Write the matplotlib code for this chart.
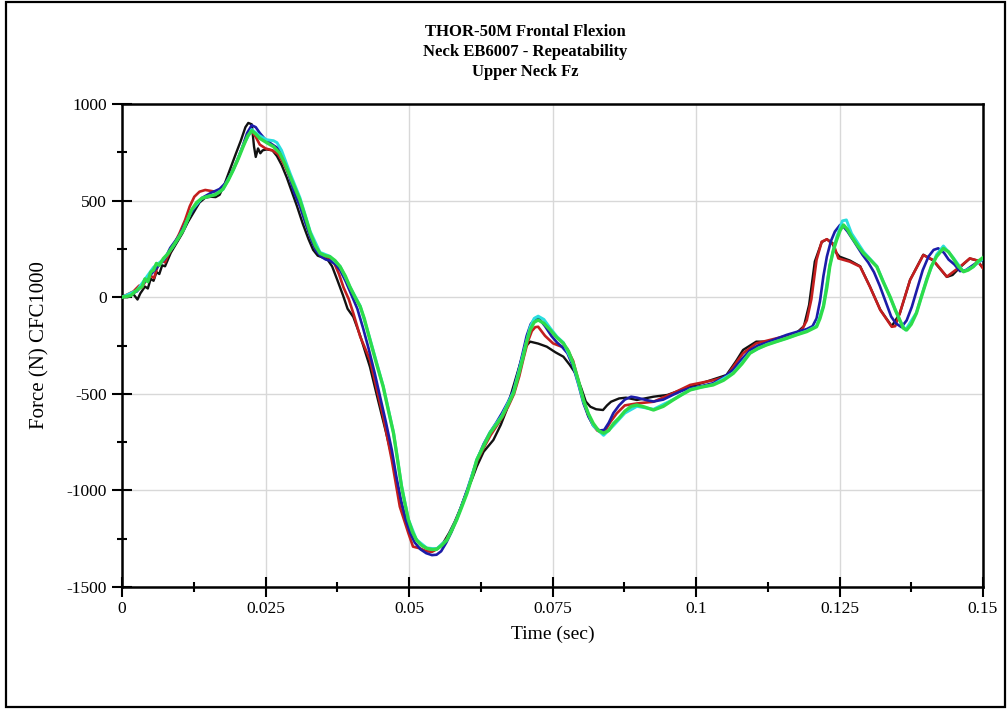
import matplotlib
matplotlib.use("Agg")
import matplotlib.pyplot as plt
from matplotlib.patches import Rectangle
from matplotlib.ticker import MultipleLocator

# ---------------- data (time in s, force in N) ----------------
t_black = [0, 0.0010, 0.0020, 0.0027, 0.0032, 0.0040, 0.0045, 0.0050, 0.0055, 0.0060,
           0.0065, 0.0070, 0.0075, 0.0085,
           0.0095, 0.0105, 0.0115, 0.0125, 0.0135, 0.0145, 0.0155, 0.0163, 0.0170, 0.0178,
           0.0188, 0.0198, 0.0207, 0.0215, 0.0220, 0.0226, 0.0230, 0.0233, 0.0237, 0.0241,
           0.0245, 0.0252, 0.0262, 0.0270, 0.0278, 0.0287, 0.0296, 0.0305, 0.0315, 0.0325,
           0.0333, 0.0341, 0.0350, 0.0358, 0.0366, 0.0375, 0.0385, 0.0393, 0.0403, 0.0415,
           0.0432, 0.0445, 0.0460, 0.0472, 0.0485, 0.0494, 0.0502, 0.0510, 0.0518, 0.0530,
           0.0540, 0.0550, 0.0560, 0.0570, 0.0580, 0.0590, 0.0600, 0.0610, 0.0618, 0.0630,
           0.0647, 0.0660, 0.0670, 0.0680, 0.0692, 0.0702, 0.0711, 0.0725, 0.0740, 0.0755,
           0.0769, 0.0780, 0.0790, 0.0800, 0.0808, 0.0816, 0.0826, 0.0838, 0.0845, 0.0852,
           0.0866, 0.0878, 0.0897, 0.0926, 0.0950, 0.0990, 0.1013, 0.1053, 0.1070, 0.1082,
           0.1105, 0.1123, 0.1158, 0.1175, 0.1188, 0.1197, 0.1207, 0.1219, 0.1228, 0.1238,
           0.1243, 0.1250, 0.1268, 0.1286, 0.1303, 0.1321, 0.1341, 0.1355, 0.1373, 0.1396,
           0.1413, 0.1430, 0.1437, 0.1447, 0.1460, 0.1477, 0.1490, 0.1500]
f_black = [0, 0, 15, -12, 20, 55, 45, 95, 85, 130,
           120, 165, 160, 230,
           280, 330, 390, 440, 490, 515, 520, 518, 530, 580,
           660, 740, 810, 880, 902, 895, 780, 726, 770, 745,
           760, 765, 760, 730, 685, 620, 545, 470, 380, 300,
           245, 215, 205, 195, 160, 90, 10, -60, -102, -200,
           -361, -520, -700, -850, -1050, -1140, -1188, -1240, -1274, -1300,
           -1305, -1300, -1270, -1220, -1160, -1090, -1010, -940, -877, -800,
           -739, -660, -584, -480, -360, -260, -230, -240, -256, -285,
           -308, -350, -394, -470, -540, -567, -580, -584, -560, -541,
           -524, -520, -532, -515, -506, -463, -442, -403, -330, -273,
           -230, -230, -204, -185, -150, -40, 185, 285, 300, 280,
           235, 210, 190, 160, 55, -65, -150, -85, 90, 220,
           190, 130, 105, 115, 155, 200, 190, 150]

t_red = [0, 0.0020, 0.0030, 0.0035, 0.0042, 0.0050, 0.0056, 0.0062, 0.0070, 0.0075,
         0.0080, 0.0090, 0.0100, 0.0110,
         0.0118, 0.0126, 0.0135, 0.0145, 0.0155, 0.0165, 0.0175, 0.0185, 0.0195, 0.0205,
         0.0213, 0.0220, 0.0226, 0.0233, 0.0240, 0.0250, 0.0262, 0.0272, 0.0282, 0.0292,
         0.0302, 0.0312, 0.0322, 0.0330, 0.0338, 0.0347, 0.0355, 0.0362, 0.0370, 0.0378,
         0.0386, 0.0395, 0.0403, 0.0415, 0.0432, 0.0455, 0.0470, 0.0484, 0.0499, 0.0507,
         0.0519, 0.0530, 0.0540, 0.0548, 0.0557, 0.0566, 0.0575, 0.0584, 0.0593, 0.0602,
         0.0611, 0.0619, 0.0631, 0.0642, 0.0653, 0.0663, 0.0673, 0.0683, 0.0692, 0.0700,
         0.0707, 0.0714, 0.0720, 0.0725, 0.0737, 0.0751, 0.0765, 0.0775, 0.0786, 0.0795,
         0.0804, 0.0812, 0.0820, 0.0828, 0.0835, 0.0843, 0.0851, 0.0862, 0.0876, 0.0897,
         0.0926, 0.0960, 0.0990, 0.1030, 0.1053, 0.1065, 0.1082, 0.1105, 0.1128, 0.1158,
         0.1175, 0.1185, 0.1193, 0.1201, 0.1210, 0.1219, 0.1228, 0.1240, 0.1248, 0.1268,
         0.1286, 0.1303, 0.1321, 0.1341, 0.1347, 0.1355, 0.1373, 0.1396, 0.1413, 0.1437,
         0.1460, 0.1477, 0.1490, 0.1500]
f_red = [0, 30, 60, 50, 90, 110, 100, 160, 190, 180,
         215, 270, 330, 400,
         470, 520, 546, 555, 550, 545, 565, 610, 670, 740,
         800, 845, 858, 830, 790, 770, 760, 740, 690, 625,
         555, 480, 390, 310, 255, 222, 210, 200, 175, 120,
         50, -10, -83, -204, -325, -618, -843, -1084, -1222, -1291,
         -1300, -1315, -1318, -1305, -1285, -1250, -1200, -1140, -1070, -1000,
         -920, -845, -775, -715, -665, -620, -565, -500, -410, -310,
         -230, -175, -155, -153, -200, -239, -255, -264, -330, -430,
         -535, -610, -660, -690, -700, -685, -645, -601, -560, -550,
         -541, -497, -454, -430, -411, -360, -290, -239, -222, -200,
         -187, -165, -120, -10, 193, 287, 300, 270, 201, 184,
         158, 54, -66, -153, -150, -83, 89, 218, 193, 106,
         158, 201, 190, 150]

t_blue = [0, 0.0026, 0.0045, 0.0060, 0.0075, 0.0084, 0.0100, 0.0115, 0.0128, 0.0140,
          0.0155, 0.0170, 0.0180, 0.0190, 0.0200, 0.0210, 0.0218, 0.0226, 0.0233, 0.0240,
          0.0250, 0.0262, 0.0272, 0.0280, 0.0290, 0.0300, 0.0310, 0.0320, 0.0330, 0.0338,
          0.0347, 0.0355, 0.0362, 0.0372, 0.0380, 0.0390, 0.0400, 0.0410, 0.0420, 0.0430,
          0.0440, 0.0450, 0.0460, 0.0470, 0.0478, 0.0486, 0.0494, 0.0502, 0.0510, 0.0520,
          0.0530, 0.0540, 0.0548, 0.0556, 0.0565, 0.0574, 0.0583, 0.0592, 0.0601, 0.0612,
          0.0620, 0.0630, 0.0641, 0.0652, 0.0662, 0.0672, 0.0682, 0.0690, 0.0698, 0.0705,
          0.0712, 0.0720, 0.0727, 0.0737, 0.0748, 0.0758, 0.0766, 0.0776, 0.0786, 0.0795,
          0.0804, 0.0813, 0.0822, 0.0832, 0.0840, 0.0848, 0.0856, 0.0866, 0.0876, 0.0887,
          0.0897, 0.0910, 0.0926, 0.0943, 0.0960, 0.0975, 0.0990, 0.1010, 0.1030, 0.1048,
          0.1065, 0.1080, 0.1094, 0.1108, 0.1123, 0.1140, 0.1158, 0.1175, 0.1193, 0.1203,
          0.1210, 0.1216, 0.1222, 0.1228, 0.1235, 0.1242, 0.1251, 0.1257, 0.1264, 0.1275,
          0.1290, 0.1300, 0.1310, 0.1320, 0.1330, 0.1340, 0.1348, 0.1358, 0.1367, 0.1376,
          0.1385, 0.1395, 0.1405, 0.1414, 0.1422, 0.1432, 0.1440, 0.1450, 0.1460, 0.1470,
          0.1483, 0.1492, 0.1500]
f_blue = [0, 30, 100, 150, 200, 255, 320, 410, 470, 515,
          540, 560, 590, 640, 700, 780, 850, 890, 880, 850,
          815, 790, 770, 730, 640, 540, 470, 380, 295, 240,
          210, 195, 190, 170, 140, 80, 10, -60, -160, -270,
          -390, -520, -650, -790, -930, -1050, -1150, -1220, -1270, -1305,
          -1325, -1335, -1333, -1315, -1270, -1215, -1150, -1075, -1000, -900,
          -830, -760, -700, -650, -600, -545, -480, -390, -290, -200,
          -140, -108, -112, -150, -200, -235, -255, -290, -360, -450,
          -550, -620, -668, -690, -687, -650, -600, -560, -530, -515,
          -520, -530, -540, -530, -505, -485, -470, -460, -445, -415,
          -375, -320, -275, -250, -235, -215, -195, -180, -165, -150,
          -110, -20, 110, 210, 290, 340, 374, 365, 340, 290,
          220, 180, 130, 60, -20, -100, -135, -155, -120, -50,
          40, 140, 210, 245, 253, 230, 195, 170, 135, 140,
          167, 185, 193]

t_cyan = [0, 0.0026, 0.0055, 0.0072, 0.0089, 0.0107, 0.0121, 0.0139, 0.0162, 0.0176,
          0.0194, 0.0211, 0.0226, 0.0240, 0.0252, 0.0264, 0.0270, 0.0278, 0.0293, 0.0310,
          0.0328, 0.0345, 0.0362, 0.0380, 0.0397, 0.0415, 0.0432, 0.0455, 0.0473, 0.0487,
          0.0499, 0.0513, 0.0531, 0.0548, 0.0566, 0.0583, 0.0601, 0.0618, 0.0641, 0.0662,
          0.0682, 0.0699, 0.0711, 0.0718, 0.0725, 0.0735, 0.0746, 0.0758, 0.0769, 0.0786,
          0.0804, 0.0821, 0.0839, 0.0856, 0.0876, 0.0897, 0.0926, 0.0960, 0.0990, 0.1030,
          0.1065, 0.1094, 0.1123, 0.1158, 0.1193, 0.1210, 0.1222, 0.1233, 0.1245, 0.1255,
          0.1262, 0.1271, 0.1292, 0.1315, 0.1338, 0.1355, 0.1365, 0.1384, 0.1402, 0.1419,
          0.1431, 0.1448, 0.1466, 0.1483, 0.1500]
f_cyan = [0, 35, 155, 195, 262, 350, 450, 512, 532, 558,
          660, 785, 868, 835, 815, 810, 800, 760, 640, 515,
          340, 232, 212, 160, 55, -45, -215, -460, -700, -975,
          -1150, -1255, -1298, -1303, -1255, -1150, -1010, -840, -700, -612,
          -490, -295, -155, -110, -98, -115, -160, -205, -235, -345,
          -540, -665, -715, -665, -600, -565, -580, -530, -478, -452,
          -392, -288, -245, -212, -175, -150, -45, 165, 310, 395,
          400, 330, 235, 160, 0, -120, -170, -80, 95, 220,
          265, 205, 132, 158, 200]

t_green = [0.0000, 0.0015, 0.0026, 0.0035, 0.0040, 0.0045, 0.0050, 0.0055, 0.0060, 0.0065,
           0.0072, 0.0080, 0.0089,
           0.0098, 0.0107, 0.0114, 0.0121, 0.0130, 0.0139, 0.0150, 0.0162, 0.0170, 0.0176,
           0.0185, 0.0194, 0.0203, 0.0211, 0.0219, 0.0226, 0.0233, 0.0240, 0.0252, 0.0264,
           0.0275, 0.0284, 0.0293, 0.0302, 0.0310, 0.0319, 0.0328, 0.0337, 0.0345, 0.0354,
           0.0362, 0.0371, 0.0380, 0.0389, 0.0397, 0.0406, 0.0415, 0.0422, 0.0432, 0.0443,
           0.0455, 0.0464, 0.0473, 0.0480, 0.0487, 0.0493, 0.0499, 0.0506, 0.0513, 0.0522,
           0.0531, 0.0540, 0.0548, 0.0557, 0.0566, 0.0574, 0.0583, 0.0592, 0.0601, 0.0610,
           0.0618, 0.0630, 0.0641, 0.0652, 0.0662, 0.0672, 0.0682, 0.0691, 0.0699, 0.0705,
           0.0711, 0.0718, 0.0725, 0.0735, 0.0746, 0.0758, 0.0769, 0.0778, 0.0786, 0.0795,
           0.0804, 0.0812, 0.0821, 0.0830, 0.0839, 0.0848, 0.0856, 0.0866, 0.0876, 0.0887,
           0.0897, 0.0910, 0.0926, 0.0943, 0.0960, 0.0975, 0.0990, 0.1010, 0.1030, 0.1048,
           0.1065, 0.1080, 0.1094, 0.1108, 0.1123, 0.1140, 0.1158, 0.1175, 0.1193, 0.1210,
           0.1216, 0.1222, 0.1228, 0.1233, 0.1239, 0.1245, 0.1251, 0.1257, 0.1264, 0.1271,
           0.1282, 0.1292, 0.1303, 0.1315, 0.1326, 0.1338, 0.1347, 0.1355, 0.1361, 0.1367,
           0.1375, 0.1384, 0.1393, 0.1402, 0.1410, 0.1419, 0.1431, 0.1440, 0.1448, 0.1457,
           0.1466, 0.1474, 0.1483, 0.1491, 0.1500]
f_green = [0, 8, 37, 55, 95, 80, 130, 140, 175, 165,
           200, 225, 265,
           305, 350, 400, 451, 490, 512, 522, 530, 545, 560,
           605, 660, 720, 779, 835, 862, 845, 822, 800, 779,
           745, 690, 624, 560, 503, 420, 331, 265, 227, 215,
           210, 190, 158, 110, 54, 0, -49, -110, -222, -340,
           -463, -585, -704, -840, -981, -1070, -1153, -1215, -1257, -1285,
           -1300, -1306, -1305, -1285, -1257, -1210, -1153, -1085, -1015, -930,
           -843, -770, -704, -660, -618, -560, -497, -400, -308, -230,
           -170, -130, -118, -135, -170, -210, -239, -280, -342, -430,
           -532, -600, -653, -690, -704, -690, -655, -625, -590, -565,
           -558, -568, -584, -565, -532, -505, -480, -465, -454, -430,
           -394, -345, -290, -265, -247, -230, -213, -195, -178, -153,
           -110, -49, 50, 158, 240, 296, 345, 374, 350, 313,
           265, 227, 195, 158, 80, 3, -65, -118, -160, -170,
           -140, -83, 5, 89, 160, 210, 253, 235, 201, 160,
           132, 140, 158, 185, 205]

x_ticks = [0, 0.025, 0.05, 0.075, 0.1, 0.125, 0.15]
x_tick_labels = ["0", "0.025", "0.05", "0.075", "0.1", "0.125", "0.15"]
y_ticks = [-1500, -1000, -500, 0, 500, 1000]
y_tick_labels = ["-1500", "-1000", "-500", "0", "500", "1000"]

title_lines = "THOR-50M Frontal Flexion\nNeck EB6007 - Repeatability\nUpper Neck Fz"
x_label = "Time (sec)"
y_label = "Force (N) CFC1000"

# ---------------- figure ----------------
serif = ["Liberation Serif", "DejaVu Serif"]
plt.rcParams["font.family"] = serif

fig = plt.figure(figsize=(10.07, 7.10), dpi=100)
ax = fig.add_axes([122 / 1007, 1 - 587 / 710, (983 - 122) / 1007, (587 - 104) / 710])

ax.plot(t_black, f_black, color="#111111", lw=1.7, zorder=3)
ax.plot(t_red, f_red, color="#c41e1e", lw=1.9, zorder=4)
ax.plot(t_blue, f_blue, color="#1c1ca8", lw=1.9, zorder=5)
ax.plot(t_cyan, f_cyan, color="#2adede", lw=2.1, zorder=6)
ax.plot(t_green, f_green, color="#2edc4a", lw=2.4, zorder=7)

ax.set_xlim(0, 0.15)
ax.set_ylim(-1500, 1000)
ax.set_xticks(x_ticks)
ax.set_xticklabels(x_tick_labels)
ax.set_yticks(y_ticks)
ax.set_yticklabels(y_tick_labels)
ax.xaxis.set_minor_locator(MultipleLocator(0.0125))
ax.yaxis.set_minor_locator(MultipleLocator(250))

ax.tick_params(which="major", direction="inout", length=14, width=1.5, labelsize=12.5, pad=4, color="black")
ax.tick_params(which="minor", direction="inout", length=7.5, width=1.5, color="black")
ax.tick_params(axis="x", which="major", pad=3)

ax.grid(True, which="major", color="#d8d8d8", lw=1.0, zorder=0)
for s in ax.spines.values():
    s.set_linewidth(1.8)
    s.set_color("black")

ax.set_xlabel(x_label, fontsize=14, labelpad=6)
ax.set_ylabel(y_label, fontsize=15, labelpad=12)

fig.text(525 / 1007, 1 - 52 / 710, title_lines, ha="center", va="center",
         fontsize=12, fontweight="bold", linespacing=1.3)

fig.patches.append(Rectangle((6 / 1007, 3 / 710), 999 / 1007, 705 / 710,
                             transform=fig.transFigure, fill=False, ec="black", lw=1.6))

fig.savefig("out.png", dpi=100)
